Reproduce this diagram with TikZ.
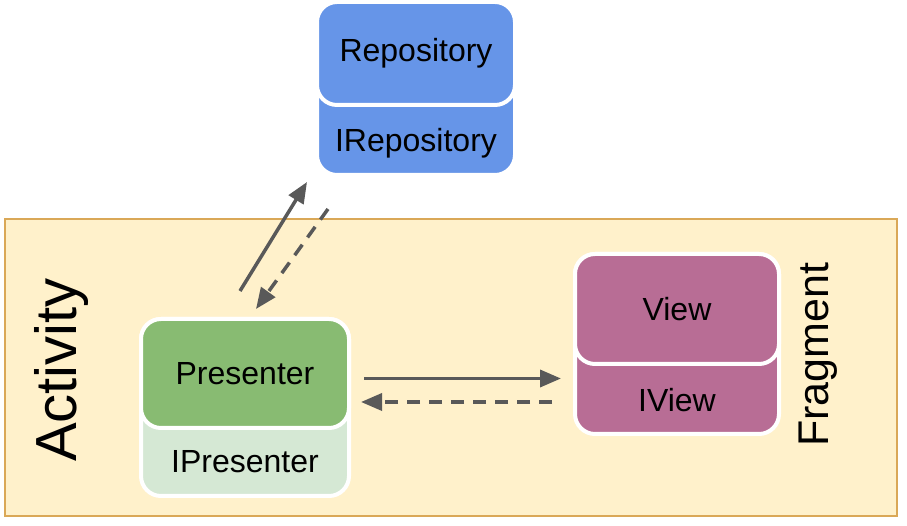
\documentclass[tikz,border=0pt]{standalone}
\usepackage{fontspec}
\setmainfont{Liberation Sans}
\usepackage{tikz}
\usetikzlibrary{arrows.meta}

\definecolor{repoblue}{HTML}{6695E8}
\definecolor{presgreen}{HTML}{88BB72}
\definecolor{ipresgreen}{HTML}{D5E8D4}
\definecolor{viewpurple}{HTML}{B86D95}
\definecolor{actfill}{HTML}{FFF1CB}
\definecolor{actline}{HTML}{DAA857}
\definecolor{arrowgray}{HTML}{595959}

\begin{document}
\begin{tikzpicture}[x=1pt, y=1pt,
    stackbox/.style={draw=white, line width=4pt, rounded corners=20pt, inner sep=0pt},
    boxtext/.style={font=\fontsize{32}{36}\selectfont, text=black},
    flow/.style={draw=arrowgray, line width=3.5pt, -{Triangle[length=21pt, width=17pt]}},
    back/.style={flow, dash pattern=on 13pt off 9pt}]
                \useasboundingbox (0,0) rectangle (907,526);

                % activity area
                \draw[fill=actfill, draw=actline, line width=1.5pt] (5,10) rectangle (897,307);
                \node[rotate=90, font=\fontsize{58}{60}\selectfont] (act) at (62,156) {Activity};
                \node[rotate=90, font=\fontsize{43}{46}\selectfont] (frag) at (818,171) {Fragment};

                % repository
                \node[stackbox, fill=repoblue, minimum width=198pt, minimum height=173pt] (repoBase) at (416,437.5) {};
                \node[stackbox, fill=repoblue, minimum width=198pt, minimum height=103pt, anchor=north, boxtext] (repo) at (repoBase.north) {Repository};
                \node[boxtext] (irepo) at (416,383) {IRepository};

                % presenter
                \node[stackbox, fill=ipresgreen, minimum width=208pt, minimum height=177pt] (presBase) at (245,118.5) {};
                \node[stackbox, fill=presgreen, minimum width=208pt, minimum height=109pt, anchor=north, boxtext] (pres) at (presBase.north) {Presenter};
                \node[boxtext] (ipres) at (245,64) {IPresenter};

                % view
                \node[stackbox, fill=viewpurple, minimum width=204pt, minimum height=180pt] (viewBase) at (677,182) {};
                \node[stackbox, fill=viewpurple, minimum width=204pt, minimum height=110pt, anchor=north, boxtext] (view) at (viewBase.north) {View};
                \node[boxtext] (iview) at (677,126) {IView};

                % calls and callbacks
                \draw[flow] ([shift={(-5,26)}]presBase.north) -- ([shift={(-109,-5)}]repoBase.south);
                \draw[back] ([shift={(-88,-32)}]repoBase.south) -- ([shift={(11,8)}]presBase.north);
                \draw[flow] ([shift={(13,-5)}]pres.east) -- ([shift={(-12,-5)}]view.west |- pres.east);
                \draw[back] ([shift={(-21,-2)}]viewBase.west |- iview.center) -- ([shift={(10,-2)}]presBase.east |- iview.center);
            \end{tikzpicture}
\end{document}
